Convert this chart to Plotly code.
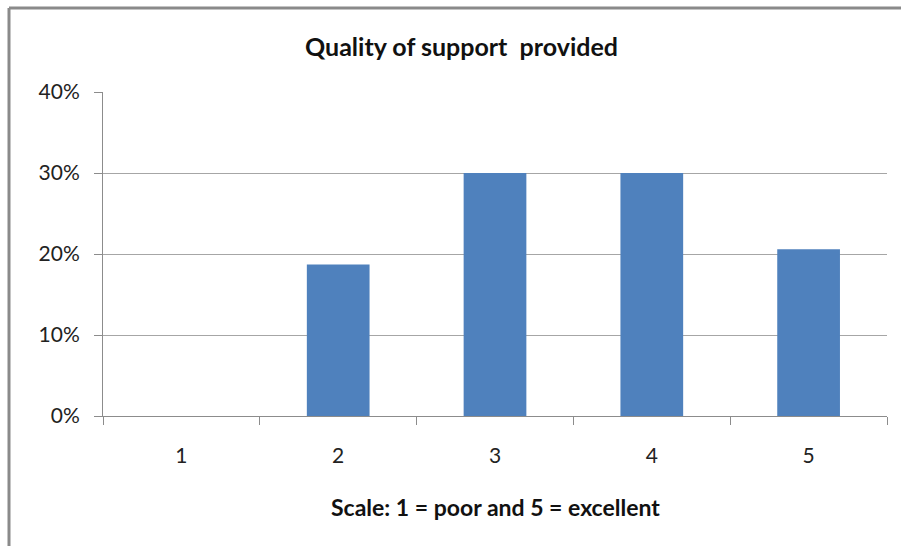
import plotly.graph_objects as go

categories = ["1", "2", "3", "4", "5"]
values = [0.0, 0.187, 0.30, 0.30, 0.206]
title_text = "Quality of support  provided"
x_title_text = "Scale: 1 = poor and 5 = excellent"

W, H = 901, 546
L, R, T, B = 103, 14, 92, 130
pw, ph = W - L - R, H - T - B

def px(x):
    return (x - L) / pw

def py(y):
    return (H - B - y) / ph

FONT = "Lato, 'Open Sans', sans-serif"

fig = go.Figure(go.Bar(
    x=categories, y=values, width=0.4,
    marker=dict(color="#4F81BD", line=dict(width=0)),
))

fig.update_layout(
    width=W, height=H,
    margin=dict(l=L, r=R, t=T, b=B, pad=0),
    paper_bgcolor="white", plot_bgcolor="white",
    showlegend=False,
    font=dict(family=FONT, size=21, color="#222"),
    bargap=0.6,
)
fig.update_yaxes(
    range=[0, 0.4], dtick=0.1, tickformat=".0%",
    showgrid=True, gridcolor="#A6A6A6", gridwidth=1,
    showline=True, linecolor="#8C8C8C", linewidth=1,
    ticks="outside", ticklen=8, tickcolor="#8C8C8C",
    ticklabelstandoff=10,
    zeroline=False, fixedrange=True,
)
fig.update_xaxes(
    type="category",
    showline=True, linecolor="#8C8C8C", linewidth=1,
    ticks="outside", ticklen=8, tickcolor="#8C8C8C",
    tickson="boundaries", ticklabelstandoff=21,
    showgrid=False, zeroline=False, fixedrange=True,
)

fig.add_annotation(text="<b>" + title_text + "</b>", xref="paper", yref="paper",
                   x=px(461), y=py(46), xanchor="center", yanchor="middle",
                   showarrow=False,
                   font=dict(size=25, family=FONT, color="#111"))
fig.add_annotation(text="<b>" + x_title_text + "</b>", xref="paper", yref="paper",
                   x=px(495), y=py(507), xanchor="center", yanchor="middle",
                   showarrow=False,
                   font=dict(size=23, family=FONT, color="#111"))

# outer chart border (top and left edges visible)
fig.add_shape(type="line", xref="paper", yref="paper",
              x0=px(9), x1=px(960), y0=py(8), y1=py(8),
              line=dict(color="#8A8A8A", width=3))
fig.add_shape(type="line", xref="paper", yref="paper",
              x0=px(9), x1=px(9), y0=py(8), y1=py(600),
              line=dict(color="#8A8A8A", width=3))

fig.write_html("out.html")
